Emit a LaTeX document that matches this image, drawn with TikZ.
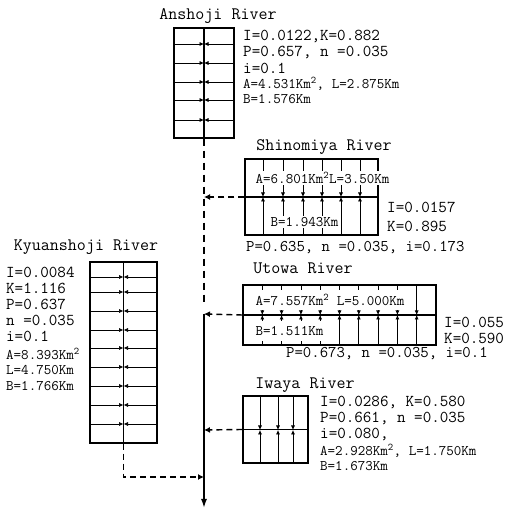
\documentclass[tikz,border=0pt]{standalone}
\usepackage{fontspec}
\usetikzlibrary{arrows.meta}

\begin{document}
\begin{tikzpicture}[x=1pt,y=-1pt,
  basin/.style={draw,line width=1.1pt,inner sep=0pt},
  axis/.style={line width=1.5pt},
  inflow/.style={line width=0.7pt,-{Latex[length=4.5pt,width=4pt]}},
  chan/.style={line width=1.4pt,dash pattern=on 7pt off 5pt},
  lateral/.style={line width=1.4pt,dash pattern=on 6pt off 4pt,-{Latex[length=6pt,width=6pt]}},
  mainflow/.style={line width=1.6pt,-{Latex[length=9pt,width=6pt]}},
  rivername/.style={inner sep=0pt,font=\ttfamily\fontsize{17.5}{18}\selectfont},
  par/.style={anchor=west,inner sep=0pt,font=\ttfamily\fontsize{16.6}{18}\selectfont},
  parn/.style={par,font=\ttfamily\fontsize{16.3}{18}\selectfont},
  sml/.style={par,font=\ttfamily\fontsize{14.6}{16}\selectfont},
  onbox/.style={fill=white,inner sep=1.5pt}]
\useasboundingbox (0,0) rectangle (512,510);

% Anshoji River
\node[basin,minimum width=60pt,minimum height=110pt] (ansh) at (204,83) {};
\foreach \y in {44,63,82,100,120} {
  \draw[inflow] (174,\y) -- (204,\y);
  \draw[inflow] (234,\y) -- (204,\y);
}
\draw[axis] (ansh.north) -- (ansh.south);
\node[rivername] (anshname) at (218,16) {Anshoji River};
\node[par] (anshI) at (243,36) {I=0.0122,K=0.882};
\node[par] (anshP) at (243,52) {P=0.657, n =0.035};
\node[par] (anshi) at (243,68) {i=0.1};
\node[sml] (anshA) at (243,84) {A=4.531Km\textsuperscript{2}, L=2.875Km};
\node[sml] (anshB) at (243,99) {B=1.576Km};

% Shinomiya River
\node[basin,minimum width=133pt,minimum height=76pt] (shin) at (311.5,197) {};
\foreach \x in {263,283,303,322,341,360} {
  \draw[inflow] (\x,159) -- (\x,197);
  \draw[inflow] (\x,235) -- (\x,197);
}
\draw[axis] (shin.west) -- (shin.east);
\node[rivername] (shinname) at (324,147) {Shinomiya River};
\node[sml,onbox] (shinA) at (254,178) {A=6.801Km\textsuperscript{2}L=3.50Km};
\node[sml,onbox] (shinB) at (269,222) {B=1.943Km};
\node[par] (shinI) at (387,207) {I=0.0157};
\node[par] (shinK) at (387,226) {K=0.895};
\node[parn] (shinP) at (246,248) {P=0.635, n =0.035, i=0.173};

% Kyuanshoji River
\node[basin,minimum width=67pt,minimum height=181pt] (kyu) at (123.5,352.5) {};
\foreach \y in {277,292,311,330,348,367,386,405,424} {
  \draw[inflow] (90,\y) -- (123.5,\y);
  \draw[inflow] (157,\y) -- (123.5,\y);
}
\draw[axis] (kyu.north) -- (kyu.south);
\node[rivername] (kyuname) at (86,247) {Kyuanshoji River};
\node[par] (kyuI) at (6,272) {I=0.0084};
\node[par] (kyuK) at (6,288) {K=1.116};
\node[par] (kyuP) at (6,304) {P=0.637};
\node[par] (kyun) at (6,320) {n =0.035};
\node[par] (kyui) at (6,336) {i=0.1};
\node[sml] (kyuA) at (6,354) {A=8.393Km\textsuperscript{2}};
\node[sml] (kyuL) at (6,370) {L=4.750Km};
\node[sml] (kyuB) at (6,386) {B=1.766Km};

% Utowa River
\node[basin,minimum width=193pt,minimum height=60pt] (utowa) at (339.5,315) {};
\foreach \k in {1,...,9} {
  \pgfmathsetmacro\x{243+19.3*\k}
  \draw[inflow] (\x,285) -- (\x,315);
  \draw[inflow] (\x,345) -- (\x,315);
}
\draw[axis] (utowa.west) -- (utowa.east);
\node[rivername] (utowaname) at (303,268) {Utowa River};
\node[sml,onbox,inner ysep=4pt] (utowaA) at (254,300) {A=7.557Km\textsuperscript{2} L=5.000Km};
\node[sml,onbox,inner ysep=5pt] (utowaB) at (254,331) {B=1.511Km};
\node[par] (utowaI) at (444,322) {I=0.055};
\node[par] (utowaK) at (444,338) {K=0.590};
\node[parn] (utowaP) at (286,354) {P=0.673, n =0.035, i=0.1};

% Iwaya River
\node[basin,minimum width=65pt,minimum height=67pt] (iwaya) at (275.5,429.5) {};
\foreach \x in {260,278,293} {
  \draw[inflow] (\x,396) -- (\x,430);
  \draw[inflow] (\x,463) -- (\x,430);
}
\draw[axis] (iwaya.west) -- (iwaya.east);
\node[rivername] (iwayaname) at (305,385) {Iwaya River};
\node[par] (iwayaI) at (320,402) {I=0.0286, K=0.580};
\node[par] (iwayaP) at (320,418) {P=0.661, n =0.035};
\node[par] (iwayai) at (320,434) {i=0.080,};
\node[sml] (iwayaA) at (320,451) {A=2.928Km\textsuperscript{2}, L=1.750Km};
\node[sml] (iwayaB) at (320,466) {B=1.673Km};

% main channel
\coordinate (shj) at (204,197);
\coordinate (utj) at (204,314);
\coordinate (iwj) at (204,430);
\coordinate (kyj) at (204,477);
\coordinate (outlet) at (204,508);
\draw[chan] (ansh.south) -- ([yshift=8pt]utj);
\draw[mainflow] (utj) -- (outlet);
\draw[lateral] (shin.west) -- (shj);
\draw[lateral] (utowa.west) -- (utj);
\draw[lateral] (iwaya.west) -- (iwj);
\draw[lateral] (kyu.south) |- (kyj);
\end{tikzpicture}
\end{document}
